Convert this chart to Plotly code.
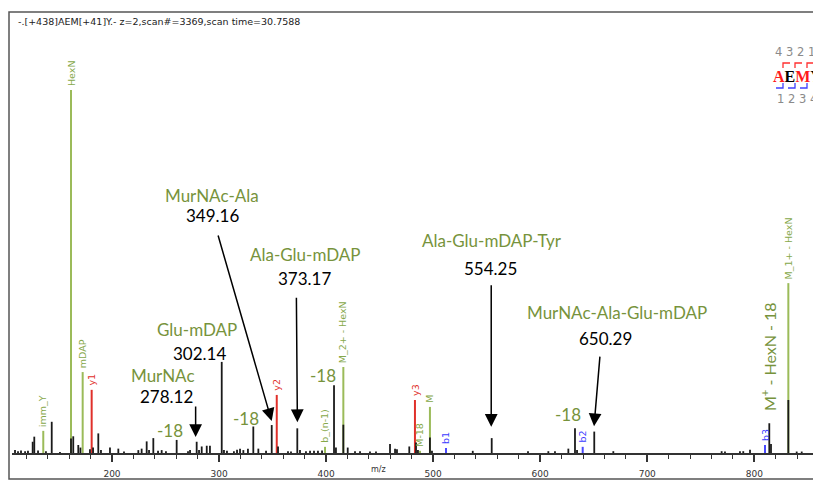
import plotly.graph_objects as go

# ---------------- data ----------------
# raw (unassigned) peaks: m/z and relative intensity
peak_mz = [109.4, 112.2, 115.0, 118.8, 121.5, 125.9, 127.4, 130.9, 138.3, 143.7,
           151.4, 161.7, 163.8, 168.5, 170.5, 179.4, 182.3, 187.2, 189.7, 198.1,
           205.9, 211.2, 224.6, 227.7, 232.4, 234.6, 238.6, 243.0, 246.4, 250.4,
           260.4, 271.0, 272.9, 279.1, 281.3, 283.8, 288.5, 291.5, 302.5, 304.6,
           307.4, 313.9, 316.8, 319.6, 322.7, 327.0, 332.0, 336.7, 343.9, 349.2,
           355.1, 364.4, 367.2, 373.1, 375.6, 381.2, 385.0, 388.7, 392.4, 396.2,
           407.4, 409.2, 416.1, 420.2, 427.0, 431.7, 441.0, 446.6, 459.7, 464.4,
           466.2, 477.7, 484.0, 485.8, 497.0, 498.9, 537.0, 554.7, 588.6, 607.6,
           613.8, 626.3, 632.5, 634.4, 650.5, 668.3, 769.5, 772.6, 786.6, 789.7,
           796.0, 814.0, 815.6, 831.8, 839.6, 844.3, 856.7]
peak_int = [0.8, 0.5, 0.7, 0.5, 0.6, 3.1, 4.5, 0.7, 0.5, 8.6,
            0.3, 4.0, 4.6, 2.2, 1.5, 1.0, 1.5, 5.4, 0.8, 1.5,
            1.2, 0.4, 0.8, 1.2, 3.2, 0.8, 4.1, 0.6, 0.8, 0.5,
            3.6, 0.5, 0.8, 3.1, 0.8, 1.8, 2.0, 2.0, 25.1, 0.8,
            0.6, 0.5, 0.9, 1.2, 0.8, 1.2, 7.3, 1.2, 0.6, 7.7,
            1.8, 0.5, 0.4, 6.8, 0.8, 0.5, 0.6, 0.6, 0.6, 0.7,
            18.7, 1.5, 7.8, 1.5, 0.5, 0.5, 0.4, 0.4, 2.5, 1.2,
            1.0, 1.8, 2.9, 0.8, 4.3, 0.6, 0.6, 4.1, 0.5, 0.5,
            0.5, 1.2, 6.8, 0.8, 5.9, 0.5, 0.5, 0.4, 0.5, 0.5,
            0.9, 8.2, 2.5, 14.6, 0.4, 0.4, 0.4]

# assigned fragment peaks
ann_mz = [161.7, 135.8, 172.6, 181.0, 353.9, 416.1, 399.0, 483.0, 487.7, 497.0, 512.0, 639.7, 810.0, 831.8]
ann_int = [100.0, 6.1, 22.3, 17.4, 16.0, 23.7, 1.7, 14.6, 0.6, 12.7, 1.4, 1.7, 2.2, 46.8]
ann_label = ["HexN", "imm_Y", "mDAP", "y1", "y2", "M_2+ - HexN", "b_(n-1)", "y3",
             "M-18", "M", "b1", "b2", "b3", "M_1+ - HexN"]
ann_kind = ["g", "g", "g", "r", "r", "g", "g", "r", "g", "g", "b", "b", "b", "g"]

# callouts
callout_name = ["MurNAc", "Glu-mDAP", "MurNAc-Ala", "Ala-Glu-mDAP", "Ala-Glu-mDAP-Tyr", "MurNAc-Ala-Glu-mDAP"]
callout_mz = ["278.12", "302.14", "349.16", "373.17", "554.25", "650.29"]

x_tick_step = 100
title_text = "-.[+438]AEM[+41]Y.- z=2,scan#=3369,scan time=30.7588"

# ---------------- layout helpers ----------------
# the page body has an 8px margin, so the figure is drawn 8px in from the top-left
OFF = 8
W, H = 821 - OFF, 482 - OFF
PLOT_L, PLOT_T, PLOT_B = 12, 12, 453          # screen pixels of the plot area
L, R, T, B = PLOT_L - OFF, 0, PLOT_T - OFF, H - (PLOT_B - OFF)
PW, PH = W - L - R, H - T - B


def xp(px):
    return (px - PLOT_L) / PW


def yp(py):
    return (PLOT_B - py) / PH


line_col = {"g": "#9bbb59", "r": "#e0302a", "b": "#4a4aff"}
text_col = {"g": "#86a84a", "r": "#e0302a", "b": "#3b3bff"}
GREEN = "#77933c"
BIGFONT = "Lato"

fig = go.Figure()

# assigned peaks (coloured)
for kind in ["g", "r", "b"]:
    xs, ys = [], []
    for m, i, k in zip(ann_mz, ann_int, ann_kind):
        if k == kind:
            xs += [m, m, None]
            ys += [0, i, None]
    fig.add_trace(go.Scatter(x=xs, y=ys, mode="lines", line=dict(color=line_col[kind], width=2),
                             hoverinfo="skip", showlegend=False))

# raw peaks (black)
xs, ys = [], []
for m, i in zip(peak_mz, peak_int):
    xs += [m, m, None]
    ys += [0, i, None]
fig.add_trace(go.Scatter(x=xs, y=ys, mode="lines", line=dict(color="#1a1a1a", width=1.8),
                         hoverinfo="skip", showlegend=False))

ann = []
# rotated fragment labels
for m, i, lab, k in zip(ann_mz, ann_int, ann_label, ann_kind):
    ann.append(dict(x=m, y=i, xref="x", yref="y", text=lab, textangle=-90, showarrow=False,
                    xanchor="center", yanchor="bottom", yshift=2,
                    font=dict(family="DejaVu Sans", size=9.5, color=text_col[k])))

# callout text positions (screen pixel centres)
name_pos = [(163, 375), (197, 329), (212, 196), (305, 255), (492, 240), (617, 312)]
num_pos = [(166, 396), (199, 353), (212, 216), (304, 278), (490, 268), (605, 338)]
for (nm, num, npos, mpos) in zip(callout_name, callout_mz, name_pos, num_pos):
    ann.append(dict(x=xp(npos[0]), y=yp(npos[1]), xref="paper", yref="paper", text=nm,
                    showarrow=False, xanchor="center", yanchor="middle",
                    font=dict(family=BIGFONT, size=17, color=GREEN)))
    ann.append(dict(x=xp(mpos[0]), y=yp(mpos[1]), xref="paper", yref="paper", text=num,
                    showarrow=False, xanchor="center", yanchor="middle",
                    font=dict(family=BIGFONT, size=17, color="black")))

# arrows (tip at peaks, tails in pixels)
arrow_tip_int = [4.4, None, 8.8, 8.5, 7.2, 7.4]
arrow_tail = [(0, -32), None, (-54, -187), (-1, -126), (0, -143), (6, -71)]
for num, ti, tail in zip(callout_mz, arrow_tip_int, arrow_tail):
    if ti is None:
        continue
    ann.append(dict(x=float(num), y=ti, xref="x", yref="y", ax=tail[0], ay=tail[1],
                    text="", showarrow=True, arrowhead=2, arrowsize=1.7, arrowwidth=1.5,
                    arrowcolor="black", standoff=0))

# "-18" labels
for (px, py) in [(170, 430), (246, 418), (323, 375), (568, 414)]:
    ann.append(dict(x=xp(px), y=yp(py), xref="paper", yref="paper", text="-18", showarrow=False,
                    xanchor="center", yanchor="middle",
                    font=dict(family=BIGFONT, size=17, color=GREEN)))

ann.append(dict(x=xp(768), y=yp(357), xref="paper", yref="paper", text="M<sup>+</sup> - HexN - 18",
                textangle=-90, showarrow=False, xanchor="center", yanchor="middle",
                font=dict(family=BIGFONT, size=16, color=GREEN)))

# header text
ann.append(dict(x=xp(16), y=yp(22), xref="paper", yref="paper", text=title_text, showarrow=False,
                xanchor="left", yanchor="middle",
                font=dict(family="DejaVu Sans", size=9.5, color="#222")))
# axis title
ann.append(dict(x=xp(378), y=yp(469), xref="paper", yref="paper", text="m/z", showarrow=False,
                xanchor="center", yanchor="middle",
                font=dict(family="DejaVu Sans", size=8, color="#333")))

# sequence logo
ann.append(dict(x=xp(795), y=yp(52), xref="paper", yref="paper", text="4 3 2 1", showarrow=False,
                xanchor="center", yanchor="middle",
                font=dict(family="DejaVu Sans", size=11.5, color="#8a8a8a")))
ann.append(dict(x=xp(797), y=yp(99), xref="paper", yref="paper", text="1 2 3 4", showarrow=False,
                xanchor="center", yanchor="middle",
                font=dict(family="DejaVu Sans", size=11.5, color="#8a8a8a")))
ann.append(dict(x=xp(771), y=yp(76), xref="paper", yref="paper",
                text="<b><span style='color:#ff1a1a'>A</span>E<span style='color:#ff1a1a'>M</span>Y</b>",
                showarrow=False, xanchor="left", yanchor="middle",
                font=dict(family="Liberation Serif", size=16, color="black")))

shapes = []
# frame
shapes.append(dict(type="rect", xref="paper", yref="paper", x0=xp(9), x1=xp(860), y0=yp(479), y1=yp(12),
                   line=dict(color="#555", width=1.5), fillcolor="rgba(0,0,0,0)", layer="below"))
# logo brackets
for x0 in [783, 795, 807]:
    shapes.append(dict(type="path", xref="paper", yref="paper",
                       path=f"M {xp(x0)},{yp(68)} L {xp(x0)},{yp(63)} L {xp(x0+7)},{yp(63)}",
                       line=dict(color="#ff3030", width=1.3)))
for x0 in [776, 788, 800]:
    shapes.append(dict(type="path", xref="paper", yref="paper",
                       path=f"M {xp(x0)},{yp(88)} L {xp(x0+7)},{yp(88)} L {xp(x0+7)},{yp(83)}",
                       line=dict(color="#4040ff", width=1.3)))

# x range so that m/z 200 -> screen px 112 and m/z 800 -> px 754.3
px_per_mz = (754.3 - 112) / 600
x_lo = 200 - (112 - PLOT_L) / px_per_mz
x_hi = x_lo + PW / px_per_mz

fig.update_layout(
    width=W, height=H,
    margin=dict(l=L, r=R, t=T, b=B),
    paper_bgcolor="white", plot_bgcolor="white",
    showlegend=False,
    annotations=ann, shapes=shapes,
    xaxis=dict(range=[x_lo, x_hi], showgrid=False, zeroline=False,
               showline=True, linecolor="#333", linewidth=2,
               tick0=0, dtick=x_tick_step, ticks="outside", ticklen=7, tickwidth=1.5, tickcolor="#333",
               ticklabelstandoff=4,
               minor=dict(dtick=20, ticks="outside", ticklen=4, tickwidth=1.2, tickcolor="#333"),
               tickfont=dict(family="DejaVu Sans", size=9, color="#333"), fixedrange=True),
    yaxis=dict(range=[0, 121.5], visible=False, fixedrange=True),
)

fig.write_html("out.html")
